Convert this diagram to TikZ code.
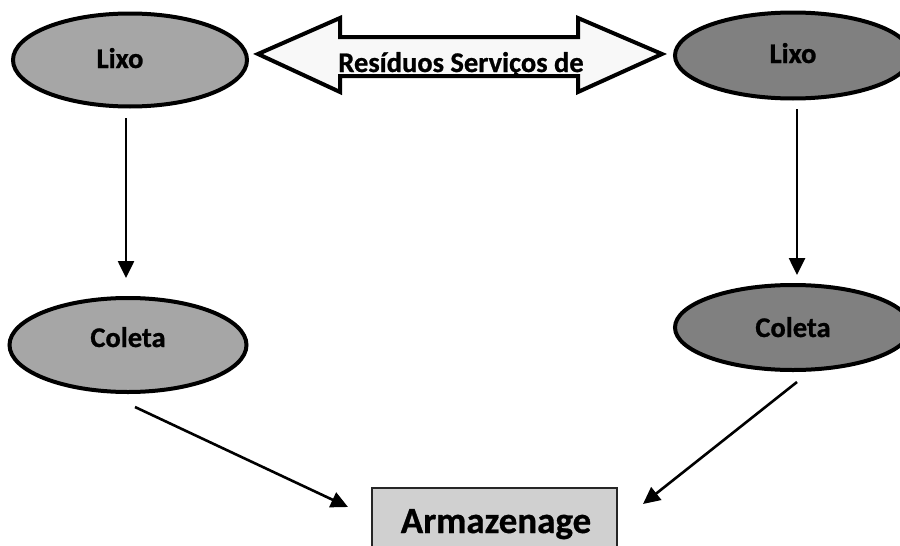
\documentclass[tikz,border=0pt]{standalone}
\usepackage{fontspec}
\setmainfont{Carlito}[BoldFeatures={FakeBold=0.8}]
\usetikzlibrary{shapes.geometric,arrows.meta}
\definecolor{fillL}{HTML}{A6A6A6}
\definecolor{fillR}{HTML}{808080}
\definecolor{boxfill}{HTML}{D0D0D0}
\definecolor{arrowfill}{HTML}{F8F8F8}
\tikzset{
  oval/.style={ellipse, draw=black, line width=4pt, inner sep=0pt},
  lbl/.style={font=\fontsize{28.5}{30}\selectfont\bfseries, anchor=base, inner sep=0pt},
  flow/.style={line width=2.6pt, -{Triangle[length=17pt,width=16pt]}},
  storebox/.style={draw=black!85, line width=1.8pt, fill=boxfill}
}
\begin{document}
\begin{tikzpicture}[x=1pt,y=-1pt]
\useasboundingbox (0,0) rectangle (900,546);
\clip (0,0) rectangle (900,546);

% two-headed banner between the top ovals
\draw[line width=4pt, fill=arrowfill, line join=miter]
  (258,54) -- (340,18) -- (340,37) -- (578,37) -- (578,18) -- (662,54)
  -- (578,92) -- (578,76) -- (340,76) -- (340,92) -- cycle;
\node[lbl] (banner) at (461,72) {Resíduos Serviços de};

% ovals
\node[oval, fill=fillL, minimum width=234pt, minimum height=93pt] (lixoL) at (130,60) {};
\node[lbl] (lixoLt) at (120,68) {Lixo};
\node[oval, fill=fillR, minimum width=236pt, minimum height=86pt] (lixoR) at (793,55.5) {};
\node[lbl] (lixoRt) at (793,63) {Lixo};
\node[oval, fill=fillL, minimum width=237pt, minimum height=94pt] (coletaL) at (128,345) {};
\node[lbl] (coletaLt) at (128,347) {Coleta};
\node[oval, fill=fillR, minimum width=236pt, minimum height=85pt] (coletaR) at (793,327.5) {};
\node[lbl] (coletaRt) at (793,337) {Coleta};

% storage box
\node[storebox, anchor=north west, minimum width=245pt, minimum height=80pt, inner sep=0pt] (arm) at (371,487) {};
\node[font=\fontsize{37}{40}\selectfont\bfseries, anchor=base, inner sep=0pt] (armt) at (496,533) {Armazenage};

% connector ends
\coordinate (aLs) at (126,118);
\coordinate (aLe) at (126,278);
\coordinate (aRs) at (797,109);
\coordinate (aRe) at (797,275);
\coordinate (dLs) at (135,407);
\coordinate (dLe) at (348,507);
\coordinate (dRs) at (797,382);
\coordinate (dRe) at (643,504);

\draw[flow] (aLs) -- (aLe);
\draw[flow] (aRs) -- (aRe);
\draw[flow] (dLs) -- (dLe);
\draw[flow] (dRs) -- (dRe);
\end{tikzpicture}
\end{document}
